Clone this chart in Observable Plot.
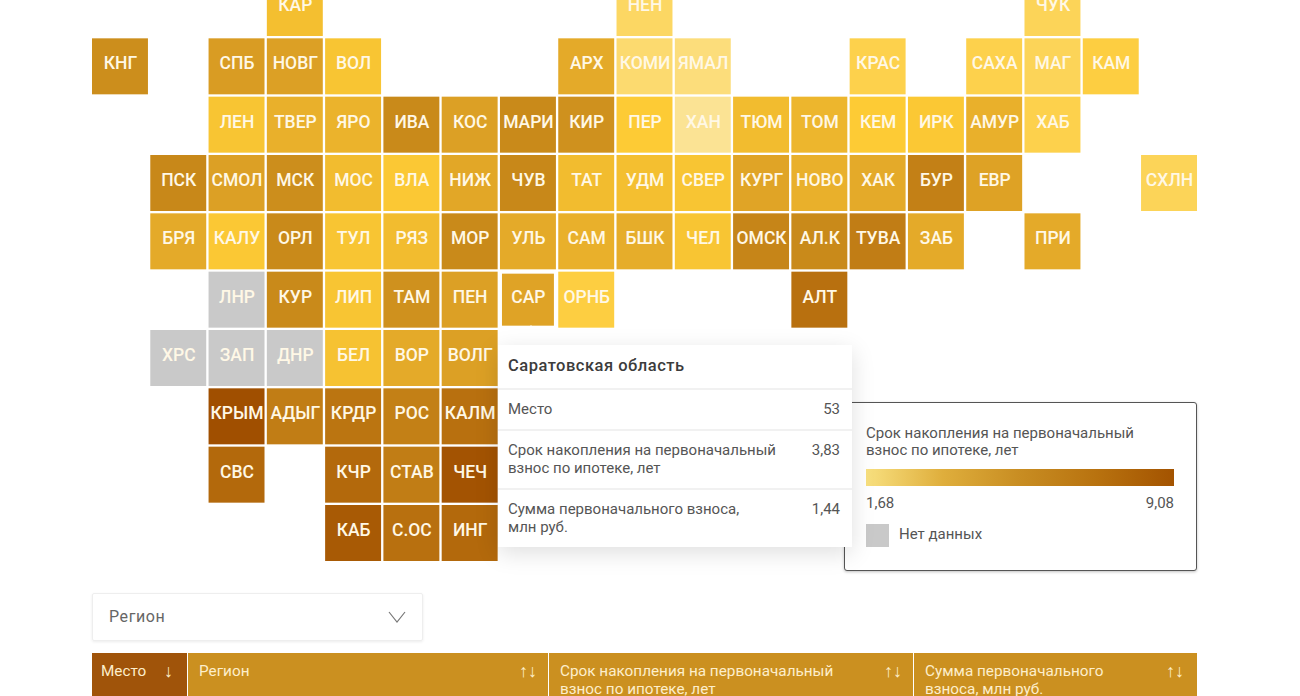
<!DOCTYPE html>
<html lang="ru">
<head>
<meta charset="utf-8">
<script src="https://cdn.jsdelivr.net/npm/d3@7"></script>
<script src="https://cdn.jsdelivr.net/npm/@observablehq/plot@0.6"></script>
<style>
  html, body { margin: 0; padding: 0; background: #fff; overflow: hidden; }
  body { width: 1300px; height: 696px; position: relative; font-family: Roboto, sans-serif; color: #555; }
  #chart { position: absolute; left: 0; top: 0; }
  #chart svg { display: block; }
  .abs { position: absolute; }
  #legend { left: 844px; top: 402px; width: 351px; height: 167px; border: 1.5px solid #555; border-radius: 3px; background: #fff; box-shadow: 0 1px 3px rgba(0,0,0,.25); }
  #tooltip { left: 498px; top: 345px; width: 354px; height: 202px; background: #fff; box-shadow: 0 6px 22px rgba(0,0,0,.13); font-size: 15px; line-height: 18px; }
  #arrow { left: 516px; top: 325px; width: 0; height: 0; border-left: 15px solid transparent; border-right: 15px solid transparent; border-bottom: 20px solid #fff; }
  .tt-row { position: absolute; left: 0; right: 0; border-top: 2px solid #f1f1f1; }
  .tt-row span { position: absolute; }
  #select { left: 92px; top: 593px; width: 329px; height: 46px; border: 1px solid #eee; border-radius: 2px; box-shadow: 0 1px 3px rgba(0,0,0,.08); font-size: 16px; letter-spacing: .6px; color: #666; }
  .head { position: absolute; top: 653px; height: 43px; background: #cb9020; color: #fdeecb; font-size: 15.3px; line-height: 18px; overflow: hidden; }
  .head span { position: absolute; white-space: pre; }
</style>
</head>
<body>
<div id="chart"></div>
<script>
const codes = [
  ["КАР", "НЕН", "ЧУК"],
  ["КНГ", "СПБ", "НОВГ", "ВОЛ", "АРХ", "КОМИ", "ЯМАЛ", "КРАС", "САХА", "МАГ", "КАМ"],
  ["ЛЕН", "ТВЕР", "ЯРО", "ИВА", "КОС", "МАРИ", "КИР", "ПЕР", "ХАН", "ТЮМ", "ТОМ", "КЕМ", "ИРК", "АМУР", "ХАБ"],
  ["ПСК", "СМОЛ", "МСК", "МОС", "ВЛА", "НИЖ", "ЧУВ", "ТАТ", "УДМ", "СВЕР", "КУРГ", "НОВО", "ХАК", "БУР", "ЕВР", "СХЛН"],
  ["БРЯ", "КАЛУ", "ОРЛ", "ТУЛ", "РЯЗ", "МОР", "УЛЬ", "САМ", "БШК", "ЧЕЛ", "ОМСК", "АЛ.К", "ТУВА", "ЗАБ", "ПРИ"],
  ["ЛНР", "КУР", "ЛИП", "ТАМ", "ПЕН", "САР", "ОРНБ", "АЛТ"],
  ["ХРС", "ЗАП", "ДНР", "БЕЛ", "ВОР", "ВОЛГ"],
  ["КРЫМ", "АДЫГ", "КРДР", "РОС", "КАЛМ"],
  ["СВС", "КЧР", "СТАВ", "ЧЕЧ"],
  ["КАБ", "С.ОС", "ИНГ"]
]
const columns = [
  [3, 9, 16],
  [0, 2, 3, 4, 8, 9, 10, 13, 15, 16, 17],
  [2, 3, 4, 5, 6, 7, 8, 9, 10, 11, 12, 13, 14, 15, 16],
  [1, 2, 3, 4, 5, 6, 7, 8, 9, 10, 11, 12, 13, 14, 15, 18],
  [1, 2, 3, 4, 5, 6, 7, 8, 9, 10, 11, 12, 13, 14, 16],
  [2, 3, 4, 5, 6, 7, 8, 12],
  [1, 2, 3, 4, 5, 6],
  [2, 3, 4, 5, 6],
  [2, 4, 5, 6],
  [4, 5, 6]
]
// years; null = no data
const years = [
  [2.9, 2.1, 2.2],
  [5.0, 4.2, 4.0, 2.7, 3.6, 2.0, 1.9, 2.3, 2.3, 2.2, 2.4],
  [2.7, 3.4, 3.3, 5.2, 4.0, 5.2, 4.8, 2.5, 1.68, 3.0, 3.2, 2.5, 2.6, 3.4, 2.3],
  [5.3, 4.0, 5.0, 3.0, 2.6, 3.7, 5.3, 3.0, 2.9, 2.7, 3.8, 3.4, 3.6, 5.8, 3.9, 2.2],
  [3.6, 2.6, 5.2, 2.7, 3.0, 5.2, 3.6, 3.4, 3.5, 2.7, 5.5, 5.2, 6.0, 3.6, 3.6],
  [null, 5.2, 2.7, 4.8, 4.0, 3.83, 2.4, 6.8],
  [null, null, null, 2.8, 3.6, 4.0],
  [9.08, 6.0, 6.5, 5.8, 6.8],
  [7.3, 7.3, 6.0, 8.8],
  [8.3, 6.8, 7.3]
]
const rampDomain = [1.68, 2.5, 3.83, 5.2, 6.8, 9.08]
const rampColors = ['#fbe394', '#fdcb35', '#dfa326', '#c98a1a', '#b8700f', '#a04f00']
const legendColors = ['#f8e07f', '#dfae3c', '#c88d22', '#b8720f', '#a35300']
const noData = '#c9c9c9'
const hovered = 'САР'

const tooltipTitle = 'Саратовская область'
const tooltipLabels = ['Место', 'Срок накопления на первоначальный<br>взнос по ипотеке, лет', 'Сумма первоначального взноса,<br>млн руб.']
const tooltipValues = ['53', '3,83', '1,44']
const legendTitle = 'Срок накопления на первоначальный<br>взнос по ипотеке, лет'
const legendTicks = ['1,68', '9,08']
const headLabels = ['Место', 'Регион', 'Срок накопления на первоначальный\nвзнос по ипотеке, лет', 'Сумма первоначального\nвзноса, млн руб.']

const cells = codes.flatMap((row, r) => row.map((code, i) => ({
  code,
  row: r,
  col: columns[r][i],
  value: years[r][i]
})))

const cellOpts = { x: 'col', y: 'row', fill: 'value' }

const chart = Plot.plot({
  width: 1300,
  height: 696,
  margin: 0,
  x: { axis: null, type: 'band', domain: d3.range(19), range: [92, 1197], paddingInner: 0.04, paddingOuter: 0, round: false },
  y: { axis: null, type: 'band', domain: d3.range(10), range: [-20, 561], paddingInner: 0.04, paddingOuter: 0, round: false },
  color: { type: 'linear', domain: rampDomain, range: rampColors, unknown: noData },
  style: { background: 'transparent', fontFamily: 'Roboto, sans-serif' },
  marks: [
    Plot.cell(cells.filter(d => d.code != hovered), cellOpts),
    Plot.cell(cells.filter(d => d.code == hovered), { ...cellOpts, inset: 2 }),
    Plot.text(cells, {
      x: 'col',
      y: 'row',
      text: 'code',
      fill: '#fff8e6',
      fontSize: 17.5,
      fontWeight: 500,
      dy: -3
    })
  ]
})
document.querySelector('#chart').append(chart)

// legend box
const stops = legendColors.join(',')
document.body.insertAdjacentHTML('beforeend', `
  <div id="legend" class="abs">
    <div class="abs" style="left:21px;top:22px;font-size:15px;line-height:17px;width:320px">${legendTitle}</div>
    <div class="abs" style="left:21px;top:66px;width:308px;height:17px;background:linear-gradient(to right,${stops})"></div>
    <div class="abs" style="left:21px;top:91px;font-size:15px">${legendTicks[0]}</div>
    <div class="abs" style="right:22px;top:91px;font-size:15px">${legendTicks[1]}</div>
    <div class="abs" style="left:21px;top:121px;width:23px;height:23px;background:${noData}"></div>
    <div class="abs" style="left:54px;top:122px;font-size:15px;line-height:18px">Нет данных</div>
  </div>
  <div id="arrow" class="abs"></div>
  <div id="tooltip" class="abs">
    <div class="abs" style="left:10px;top:12px;font-size:16.5px;font-weight:500;color:#3c3c3c;letter-spacing:.5px">${tooltipTitle}</div>
  </div>
  <div id="select" class="abs">
    <span class="abs" style="left:16px;top:13px">Регион</span>
    <svg class="abs" style="left:295px;top:17px" width="18" height="12"><polyline points="1,1 9,11 17,1" fill="none" stroke="#777" stroke-width="1.2"/></svg>
  </div>
`)

const tooltip = document.querySelector('#tooltip')
const rowTops = [43, 84, 143]
const rowHeights = [41, 59, 59]
tooltipLabels.forEach((label, i) => {
  tooltip.insertAdjacentHTML('beforeend', `
    <div class="tt-row" style="top:${rowTops[i]}px;height:${rowHeights[i]}px">
      <span style="left:10px;top:10px;white-space:nowrap">${label}</span>
      <span style="right:12px;top:10px">${tooltipValues[i]}</span>
    </div>`)
})

// table header
const headLeft = [92, 188, 549, 914]
const headRight = [187, 548, 913, 1197]
const sortX = [72, 331, 335, 252]
headLabels.forEach((label, i) => {
  const bg = i == 0 ? 'background:#a0540a;' : ''
  document.body.insertAdjacentHTML('beforeend', `
    <div class="head" style="left:${headLeft[i]}px;width:${headRight[i] - headLeft[i]}px;${bg}">
      <span style="left:${i == 0 ? 9 : 11}px;top:9px">${label}</span>
      <span style="left:${sortX[i]}px;top:9px;font-size:18px">${i == 0 ? '↓' : '↑↓'}</span>
    </div>`)
})
</script>
</body>
</html>
